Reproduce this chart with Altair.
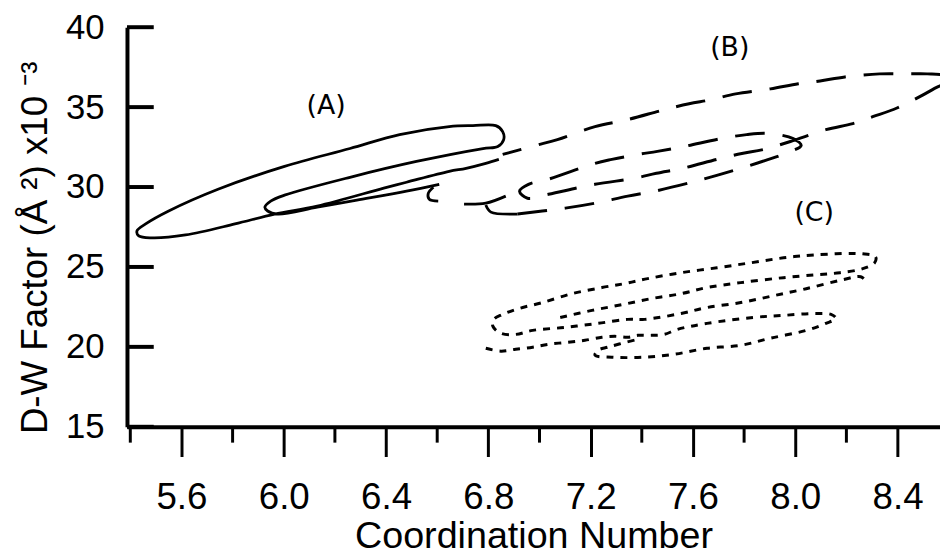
import altair as alt
import pandas as pd

# ---------------- data ----------------
# (A) solid trajectory: inner loop -> outer loop -> lower edge
a_main_x = [6.608, 6.480, 6.286, 6.131, 5.976, 5.937, 5.926, 5.949, 6.003, 6.259, 6.519, 6.779,
            6.837, 6.860, 6.856, 6.829, 6.740, 6.647, 6.453, 6.259, 6.003, 5.743, 5.550, 5.460,
            5.426, 5.433, 5.484, 5.616, 5.809, 5.964, 6.131, 6.391, 6.480, 6.647, 6.713, 6.790, 6.841]
a_main_y = [30.17, 29.74, 29.18, 28.74, 28.31, 28.50, 28.74, 29.12, 29.49, 30.61, 31.60, 32.41,
            32.54, 32.97, 33.47, 33.84, 33.84, 33.78, 33.28, 32.41, 31.29, 29.86, 28.50, 27.69,
            27.25, 26.94, 26.82, 27.00, 27.69, 28.31, 28.81, 29.93, 30.30, 30.98, 31.17, 31.48, 31.73]
a_hook1_x = [6.585, 6.565, 6.569, 6.604]
a_hook1_y = [29.99, 29.61, 29.24, 29.12]
a_hook2_x = [6.705, 6.790, 6.868]
a_hook2_y = [28.93, 28.99, 29.43]
a_hook3_x = [6.790, 6.810, 6.914]
a_hook3_y = [28.87, 28.43, 28.31]

# (B) dashed trajectory
b_x = [6.914, 7.011, 7.101, 7.217, 7.345, 7.450, 7.624, 7.787, 7.884, 7.961, 8.023,
       7.992, 7.895, 7.810, 7.709, 7.566, 7.461, 7.384, 7.283, 7.217, 7.035, 6.957,
       6.922, 6.953, 7.035, 7.217, 7.372, 7.457, 7.558, 7.694, 7.791, 7.876, 7.981,
       8.120, 8.225, 8.303, 8.400, 8.535, 8.597, 8.574, 8.516, 8.438, 8.330, 8.194,
       8.097, 8.012, 7.903, 7.767, 7.671, 7.585, 7.488, 7.345, 7.217, 7.070, 6.984, 6.856]
b_y = [28.31, 28.50, 28.68, 28.99, 29.43, 29.74, 30.42, 31.17, 31.67, 32.10, 32.60,
       33.03, 33.35, 33.28, 33.03, 32.54, 32.23, 32.04, 31.73, 31.48, 30.49, 30.17,
       29.74, 29.30, 29.55, 30.17, 30.55, 30.86, 31.17, 31.73, 32.10, 32.35, 32.85,
       33.59, 33.97, 34.40, 34.96, 36.08, 36.70, 37.01, 37.08, 37.08, 37.08, 36.89,
       36.64, 36.46, 36.14, 35.83, 35.46, 35.21, 34.84, 34.22, 33.78, 32.97, 32.60, 32.04]

# (C) short-dash trajectory: upper loops and lower loop
c_upper_x = [7.081, 7.205, 7.322, 7.438, 7.554, 7.655, 7.787, 7.954, 8.082, 8.175, 8.264,
             8.310, 8.314, 8.264, 8.082, 7.954, 7.826, 7.694, 7.554, 7.423, 7.333, 7.244,
             7.128, 7.011, 6.918, 6.856, 6.821, 6.818, 6.849, 6.907, 6.973, 7.101, 7.229,
             7.345, 7.411, 7.554, 7.655, 7.787, 7.915, 8.043, 8.186, 8.256, 8.275]
c_upper_y = [21.84, 22.28, 22.64, 23.02, 23.33, 23.71, 24.02, 24.33, 24.51, 24.64, 24.89,
             25.26, 25.63, 25.82, 25.76, 25.57, 25.26, 24.95, 24.64, 24.27, 23.96, 23.71,
             23.33, 22.77, 22.39, 22.03, 21.72, 21.28, 20.85, 20.78, 21.03, 21.22, 21.47,
             21.72, 21.72, 22.09, 22.46, 22.77, 23.20, 23.64, 24.20, 24.39, 24.14]
c_lower_x = [6.790, 6.849, 6.907, 6.973, 7.035, 7.112, 7.178, 7.244, 7.294, 7.345, 7.384,
             7.438, 7.488, 7.539, 7.655, 7.837, 7.954, 8.082, 8.140, 8.159, 8.120, 8.043,
             7.903, 7.787, 7.655, 7.527, 7.403, 7.283, 7.217, 7.229, 7.267, 7.322, 7.384]
c_lower_y = [19.91, 19.73, 19.85, 19.98, 20.16, 20.29, 20.41, 20.60, 20.66, 20.60, 20.72,
             20.72, 20.78, 21.09, 21.47, 21.84, 21.97, 22.09, 22.03, 21.78, 21.47, 21.03,
             20.54, 20.10, 19.91, 19.54, 19.35, 19.35, 19.48, 19.79, 19.98, 20.22, 20.47]

labels = ["(A)", "(B)", "(C)"]
label_x = [6.166, 7.744, 8.074]
label_y = [35.09, 38.69, 28.37]

x_major = [5.6, 6.0, 6.4, 6.8, 7.2, 7.6, 8.0, 8.4]
x_minor = [5.4, 5.8, 6.2, 6.6, 7.0, 7.4, 7.8, 8.2]
y_ticks = [15, 20, 25, 30, 35, 40]


def frame(parts):
    rows = []
    for seg, xs, ys in parts:
        for i, (xv, yv) in enumerate(zip(xs, ys)):
            rows.append({"seg": seg, "i": i, "x": xv, "y": yv})
    return pd.DataFrame(rows)


df_a = frame([("main", a_main_x, a_main_y), ("h1", a_hook1_x, a_hook1_y),
              ("h2", a_hook2_x, a_hook2_y), ("h3", a_hook3_x, a_hook3_y)])
df_b = frame([("b", b_x, b_y)])
df_c = frame([("up", c_upper_x, c_upper_y), ("low", c_lower_x, c_lower_y)])
df_lab = pd.DataFrame({"x": label_x, "y": label_y, "label": labels})
df_ytick = pd.DataFrame({"y": y_ticks})
df_xminor = pd.DataFrame({"x": x_minor})

FONT = "Liberation Sans"
X = alt.X("x:Q",
          scale=alt.Scale(domain=[5.387, 8.566], nice=False, zero=False),
          axis=alt.Axis(values=x_major, format=".1f", grid=False,
                        domainColor="black", domainWidth=4,
                        tickColor="black", tickWidth=3, tickSize=30,
                        labelFont=FONT, labelFontSize=37, labelColor="black",
                        labelBaseline="alphabetic", labelPadding=52,
                        labelOverlap=False, labelFlush=False,
                        title="Coordination Number", titleFont=FONT,
                        titleFontSize=38, titleFontWeight="normal", titleColor="black",
                        titleBaseline="alphabetic", titleY=122))
Y = alt.Y("y:Q",
          scale=alt.Scale(domain=[15, 40], nice=False, zero=False),
          axis=alt.Axis(values=y_ticks, grid=False, ticks=False, tickSize=0,
                        domainColor="black", domainWidth=4,
                        labelFont=FONT, labelFontSize=35, labelColor="black",
                        labelPadding=23,
                        title="D-W Factor (Å ²) x10 ⁻³", titleFont=FONT,
                        titleFontSize=37, titleFontWeight="normal", titleColor="black",
                        titleBaseline="alphabetic", titleAngle=270,
                        titleX=-81, titleY=222))

line_a = alt.Chart(df_a).mark_line(color="black", strokeWidth=2.8,
                                   interpolate="catmull-rom", clip=True).encode(
    x=X, y=Y, detail="seg:N", order="i:Q")
line_b = alt.Chart(df_b).mark_line(color="black", strokeWidth=3, strokeDash=[30, 18],
                                   interpolate="catmull-rom", clip=True).encode(
    x=X, y=Y, detail="seg:N", order="i:Q")
line_c = alt.Chart(df_c).mark_line(color="black", strokeWidth=3, strokeDash=[7, 7],
                                   interpolate="catmull-rom", clip=True).encode(
    x=X, y=Y, detail="seg:N", order="i:Q")
text = alt.Chart(df_lab).mark_text(font="DejaVu Sans", fontSize=27, color="black").encode(
    x=X, y=Y, text="label:N")
yticks = alt.Chart(df_ytick).mark_rule(color="black", strokeWidth=4).encode(
    y=Y, x=alt.value(0), x2=alt.value(27))
xminor = alt.Chart(df_xminor).mark_rule(color="black", strokeWidth=3).encode(
    x=X, y=alt.value(403), y2=alt.value(419))

chart = alt.layer(line_a, line_b, line_c, text, yticks, xminor).properties(
    width=820, height=403,
    padding={"left": 120, "top": 17, "right": 0, "bottom": 132},
    autosize=alt.AutoSizeParams(type="none"),
    background="white",
).configure_view(stroke=None)

chart.save("out.html", embed_options={"renderer": "svg", "actions": False})
